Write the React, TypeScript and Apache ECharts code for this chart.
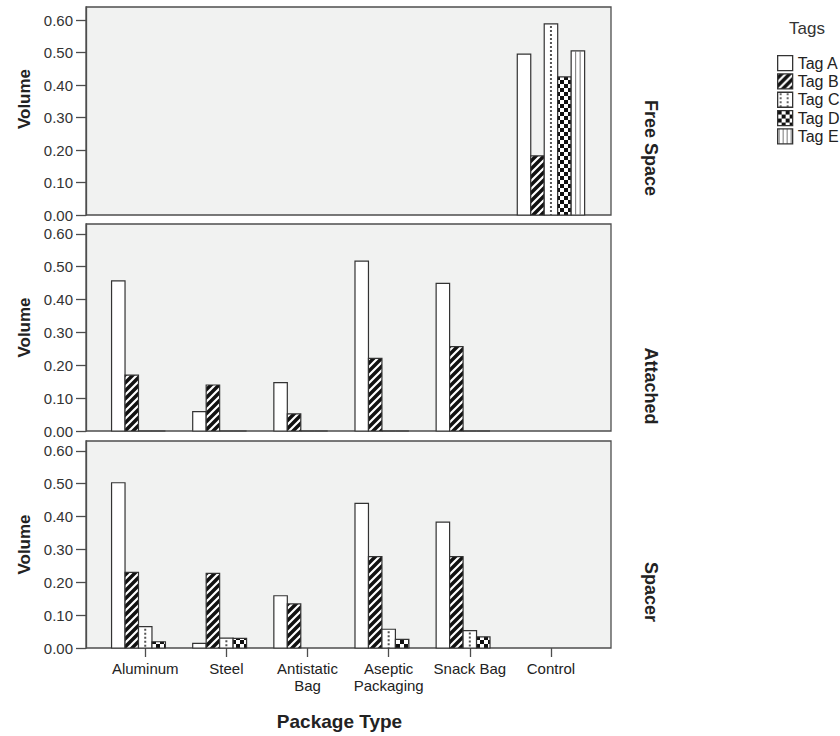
import React, { useEffect, useRef } from "react";
import * as echarts from "echarts";

const CATEGORIES = ["Aluminum", "Steel", "Antistatic\nBag", "Aseptic\nPackaging", "Snack Bag", "Control"];
const TAGS = ["Tag A", "Tag B", "Tag C", "Tag D", "Tag E"];
const PANELS = ["Free Space", "Attached", "Spacer"];
const Y_TICKS = [0, 0.1, 0.2, 0.3, 0.4, 0.5, 0.6];
const X_TICKS = [0, 1, 2, 3, 4, 5];

// Free Space panel
const FREE_SPACE_TAG_A = [null, null, null, null, null, 0.495];
const FREE_SPACE_TAG_B = [null, null, null, null, null, 0.182];
const FREE_SPACE_TAG_C = [null, null, null, null, null, 0.588];
const FREE_SPACE_TAG_D = [null, null, null, null, null, 0.425];
const FREE_SPACE_TAG_E = [null, null, null, null, null, 0.505];

// Attached panel
const ATTACHED_TAG_A = [0.457, 0.059, 0.147, 0.517, 0.449, null];
const ATTACHED_TAG_B = [0.17, 0.14, 0.052, 0.221, 0.257, null];
const ATTACHED_TAG_C = [0, 0, 0, 0, 0, null];
const ATTACHED_TAG_D = [0, 0, 0, 0, 0, null];
const ATTACHED_TAG_E = [null, null, null, null, null, null];

// Spacer panel
const SPACER_TAG_A = [0.503, 0.014, 0.159, 0.44, 0.383, null];
const SPACER_TAG_B = [0.23, 0.227, 0.134, 0.278, 0.278, null];
const SPACER_TAG_C = [0.065, 0.03, null, 0.057, 0.053, null];
const SPACER_TAG_D = [0.019, 0.029, null, 0.026, 0.034, null];
const SPACER_TAG_E = [null, null, null, null, null, null];

const PANEL_VALUES = [
  [FREE_SPACE_TAG_A, FREE_SPACE_TAG_B, FREE_SPACE_TAG_C, FREE_SPACE_TAG_D, FREE_SPACE_TAG_E],
  [ATTACHED_TAG_A, ATTACHED_TAG_B, ATTACHED_TAG_C, ATTACHED_TAG_D, ATTACHED_TAG_E],
  [SPACER_TAG_A, SPACER_TAG_B, SPACER_TAG_C, SPACER_TAG_D, SPACER_TAG_E],
];

const FONT = "'Liberation Sans', Arial, sans-serif";
const GRID_LEFT = 86;
const GRID_WIDTH = 525;
const PANEL_TOPS = [7, 224, 441];
const PANEL_HEIGHTS = [208, 207, 207];
const Y_MAX = [0.64, 0.63, 0.63];
const X_MIN = -0.73;
const X_MAX = 5.74;
const BAR_FRAC = 0.166;
const FRAME = "#4d4d4d";
const BAR_STROKE = "#333333";
const LABEL_Y = [148, 386, 592];
const VOLUME_PADDING = [[0, 0, 0, 24], [0, 0, 0, 0], [0, 0, 0, 0]];

function makeTile(w: number, h: number, draw: (ctx: CanvasRenderingContext2D) => void) {
  const c = document.createElement("canvas");
  c.width = w;
  c.height = h;
  const ctx = c.getContext("2d") as CanvasRenderingContext2D;
  draw(ctx);
  return { image: c.toDataURL(), repeat: "repeat", imageWidth: w, imageHeight: h };
}

export default function App() {
  const ref = useRef<HTMLDivElement>(null);

  useEffect(() => {
    if (!ref.current) return;
    const chart = echarts.init(ref.current, null, { renderer: "svg" });

    const stripes = makeTile(8, 8, (ctx) => {
      ctx.fillStyle = "#111";
      ctx.fillRect(0, 0, 8, 8);
      ctx.strokeStyle = "#fff";
      ctx.lineWidth = 2.2;
      ctx.beginPath();
      ctx.moveTo(-1, 9); ctx.lineTo(9, -1);
      ctx.moveTo(-5, 5); ctx.lineTo(5, -5);
      ctx.moveTo(3, 13); ctx.lineTo(13, 3);
      ctx.stroke();
    });
    const checker = makeTile(8, 8, (ctx) => {
      ctx.fillStyle = "#fff";
      ctx.fillRect(0, 0, 8, 8);
      ctx.fillStyle = "#111";
      ctx.fillRect(0, 0, 4, 4);
      ctx.fillRect(4, 4, 4, 4);
    });
    const dots = makeTile(7, 4, (ctx) => {
      ctx.fillStyle = "#fff";
      ctx.fillRect(0, 0, 7, 4);
      ctx.fillStyle = "#666";
      ctx.fillRect(2, 1, 2, 2);
    });
    const vlines = makeTile(4, 4, (ctx) => {
      ctx.fillStyle = "#fff";
      ctx.fillRect(0, 0, 4, 4);
      ctx.fillStyle = "#777";
      ctx.fillRect(1, 0, 1, 4);
    });

    const FILLS: any[] = ["#ffffff", stripes, "#ffffff", checker, "#ffffff"];
    const LEGEND_FILLS: any[] = ["#ffffff", stripes, dots, checker, vlines];

    const makeRender = (t: number) => (params: any, api: any) => {
      const cat = api.value(0) as number;
      const val = api.value(1) as number;
      const p0 = api.coord([cat, 0]);
      const p1 = api.coord([cat, val]);
      const w = api.coord([cat + BAR_FRAC, 0])[0] - p0[0];
      const x = p0[0] - (TAGS.length / 2) * w + t * w;
      const y = p1[1];
      const h = p0[1] - p1[1];
      const children: any[] = [
        {
          type: "rect",
          shape: { x, y, width: w, height: h },
          style: { fill: FILLS[t], stroke: BAR_STROKE, lineWidth: 1.2 },
        },
      ];
      if (t === 2 && h > 3) {
        children.push({
          type: "line",
          shape: { x1: x + w / 2, y1: y + 2, x2: x + w / 2, y2: y + h },
          style: { stroke: "#555", lineWidth: 2, lineDash: [2, 2] },
        });
      }
      if (t === 4 && h > 2) {
        [1, 2].forEach((k) =>
          children.push({
            type: "line",
            shape: { x1: x + (k * w) / 3, y1: y, x2: x + (k * w) / 3, y2: y + h },
            style: { stroke: "#777", lineWidth: 1 },
          })
        );
      }
      return { type: "group", children };
    };

    const series: any[] = [];
    PANEL_VALUES.forEach((tags, i) => {
      tags.forEach((vals, t) => {
        series.push({
          type: "custom",
          name: TAGS[t],
          xAxisIndex: i,
          yAxisIndex: i,
          encode: { x: 0, y: 1 },
          data: vals
            .map((v, c) => (v == null ? null : [c, v]))
            .filter((d) => d != null),
          renderItem: makeRender(t),
        });
      });
    });

    const option: any = {
      animation: false,
      textStyle: { fontFamily: FONT },
      title: {
        text: "Tags",
        left: 789,
        top: 20,
        padding: 0,
        textStyle: { fontSize: 17, fontWeight: "normal", color: "#333", fontFamily: FONT },
      },
      legend: {
        orient: "vertical",
        left: 777,
        top: 55,
        padding: 0,
        itemWidth: 15,
        itemHeight: 15,
        itemGap: 2,
        icon: "rect",
        selectedMode: false,
        textStyle: { fontSize: 16, color: "#222", fontFamily: FONT, lineHeight: 15 },
        data: TAGS.map((name, t) => ({
          name,
          itemStyle: { color: LEGEND_FILLS[t], borderColor: BAR_STROKE, borderWidth: 1.3 },
        })),
      },
      grid: PANELS.map((_, i) => ({
        left: GRID_LEFT,
        top: PANEL_TOPS[i],
        width: GRID_WIDTH,
        height: PANEL_HEIGHTS[i],
        show: true,
        backgroundColor: "#f1f2f1",
        borderColor: FRAME,
        borderWidth: 1.3,
      })),
      xAxis: PANELS.map((_, i) => ({
        gridIndex: i,
        type: "value",
        min: X_MIN,
        max: X_MAX,
        axisLine: { show: false, onZero: false },
        splitLine: { show: false },
        axisTick: {
          show: i === 2,
          customValues: X_TICKS,
          length: 9,
          lineStyle: { color: FRAME, width: 1.3 },
        },
        axisLabel: {
          show: i === 2,
          customValues: X_TICKS,
          formatter: (v: number) => CATEGORIES[Math.round(v)],
          fontSize: 15,
          lineHeight: 17,
          color: "#222",
          margin: 12,
          fontFamily: FONT,
        },
        name: i === 2 ? "Package Type" : "",
        nameLocation: "middle",
        nameGap: 64,
        nameTextStyle: {
          fontSize: 19,
          fontWeight: "bold",
          color: "#222",
          fontFamily: FONT,
          padding: [0, 18, 0, 0],
        },
      })),
      yAxis: PANELS.map((_, i) => ({
        gridIndex: i,
        type: "value",
        min: 0,
        max: Y_MAX[i],
        axisLine: { show: true, onZero: false, lineStyle: { color: FRAME, width: 1.3 } },
        splitLine: { show: false },
        axisTick: {
          show: true,
          customValues: Y_TICKS,
          length: 10,
          lineStyle: { color: FRAME, width: 1.3 },
        },
        axisLabel: {
          customValues: Y_TICKS,
          formatter: (v: number) => v.toFixed(2),
          fontSize: 15,
          color: "#333",
          margin: 13,
          fontFamily: FONT,
        },
        name: "Volume",
        nameLocation: "middle",
        nameGap: 53,
        nameTextStyle: {
          fontSize: 17,
          fontWeight: "bold",
          color: "#222",
          fontFamily: FONT,
          padding: VOLUME_PADDING[i],
        },
      })),
      graphic: PANELS.map((p, i) => ({
        type: "text",
        x: 651,
        y: LABEL_Y[i],
        rotation: -Math.PI / 2,
        style: {
          text: p,
          font: `bold 18px ${FONT}`,
          align: "center",
          verticalAlign: "middle",
          fill: "#222",
        },
      })),
      series,
    };

    chart.setOption(option);
    return () => chart.dispose();
  }, []);

  return (
    <div
      ref={ref}
      style={{ position: "fixed", left: 0, top: 0, width: 840, height: 736, background: "#fff" }}
    />
  );
}
